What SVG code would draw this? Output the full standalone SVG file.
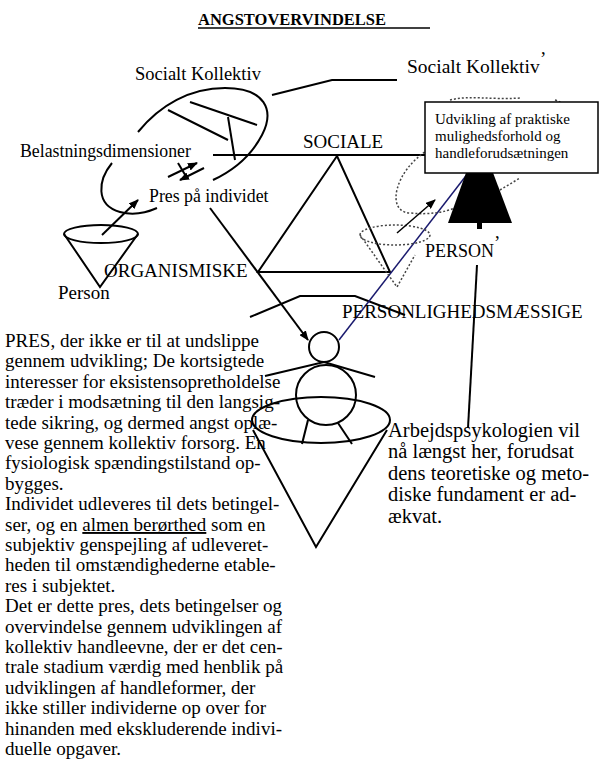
<svg xmlns="http://www.w3.org/2000/svg" width="616" height="768" viewBox="0 0 616 768" font-family="Liberation Serif, Times New Roman, serif">
<style>
text{font-family:'Liberation Serif',serif;fill:#000}
.t{font-size:19px}
.s{stroke:#000;stroke-width:2;fill:none}
.d{stroke:#444;stroke-width:1.5;fill:none;stroke-dasharray:2 2}
</style>
<defs><marker id="a" markerWidth="10" markerHeight="8" refX="9" refY="4" orient="auto" markerUnits="userSpaceOnUse"><path d="M0,0 L10,4 L0,8 z" fill="#000"/></marker></defs>
<rect width="616" height="768" fill="#fff"/>
<g id="title"><text x="198" y="25" font-size="16.5" font-weight="bold">ANGSTOVERVINDELSE</text><line x1="198" y1="28" x2="430" y2="28" stroke="#000" stroke-width="1.5"/></g>
<g id="connectors">
<path class="s" d="M138,132 C160,105 190,88 225,88 C265,88 275,110 262,135 C250,158 230,172 213,180"/>
<line class="s" x1="168" y1="110" x2="228" y2="140"/>
<line class="s" x1="190" y1="102" x2="257" y2="125"/>
<line class="s" x1="228" y1="117" x2="235" y2="160"/>
<polyline class="s" points="272,95 332,80 397,80"/>
<line class="s" x1="213" y1="155" x2="430" y2="155"/>
<path class="s" d="M112,163 C98,180 95,205 120,212 C135,216 148,212 157,208"/>
<line class="s" x1="168" y1="177" x2="197" y2="163" marker-end="url(#a)"/>
<line class="s" x1="204" y1="168" x2="180" y2="180" marker-end="url(#a)"/>
<line class="s" x1="178" y1="163" x2="187" y2="178"/>
<line class="s" x1="102" y1="235" x2="138" y2="200" marker-end="url(#a)"/>
<polyline class="s" points="337,156 258,272 390,272 337,156"/>
<line class="s" x1="210" y1="208" x2="308" y2="340" marker-end="url(#a)"/>
<polyline class="s" points="250,317 300,296 355,296 405,315"/>
<line x1="339" y1="340" x2="472" y2="168" stroke="#1a1a6e" stroke-width="1.5"/>
<line class="s" x1="477" y1="265" x2="468" y2="428"/>
</g>
<g id="person-left"><ellipse class="s" cx="101" cy="234" rx="37" ry="9"/><polyline class="s" points="64,234 100,287 138,234"/></g>
<g id="person-right">
<path class="d" d="M428,150 C395,170 385,212 410,213 C430,215 445,212 455,208"/>
<path class="d" d="M450,100 C470,95 490,100 520,98 M555,100 C562,102 565,106 560,112"/>
<path class="d" d="M500,190 L520,178"/>
<ellipse class="d" cx="395" cy="235" rx="35" ry="10"/>
<polyline class="d" points="360,235 397,287 415,255"/>
<line x1="397" y1="233" x2="435" y2="200" stroke="#000" stroke-width="1.5" marker-end="url(#a)"/>
<polygon points="467,170 492,170 512,223 448,223" fill="#000"/>
<rect x="477" y="223" width="5" height="6" fill="#000"/>
</g>
<g id="figure">
<circle class="s" cx="324" cy="347" r="15"/>
<circle class="s" cx="326" cy="395" r="30"/>
<polyline class="s" points="265,376 324,362 375,377"/>
<line class="s" x1="308" y1="420" x2="302" y2="444"/>
<line class="s" x1="338" y1="423" x2="352" y2="444"/>
<ellipse class="s" cx="321" cy="420" rx="69" ry="23"/>
<polyline class="s" points="253,430 316,547 387,430"/>
</g>
<g id="box"><rect x="425" y="102" width="173" height="71" fill="#fff" stroke="#000" stroke-width="1.5"/>
<text x="435" y="124" font-size="15">Udvikling af praktiske</text><text x="435" y="141" font-size="15">mulighedsforhold og</text><text x="435" y="158" font-size="15">handleforudsætningen</text></g>
<g id="labels">
<text x="135" y="80" font-size="18.5">Socialt Kollektiv</text>
<text x="407" y="73" font-size="19.5">Socialt Kollektiv</text><text x="540" y="65" font-size="19">’</text>
<text x="20" y="157" font-size="17.8">Belastningsdimensioner</text>
<text x="303" y="148" font-size="19">SOCIALE</text>
<text x="149" y="202" font-size="17.8">Pres på individet</text>
<text x="104" y="277" font-size="19">ORGANISMISKE</text>
<text x="58" y="299" font-size="19">Person</text>
<text x="425" y="257" font-size="18">PERSON</text><text x="494" y="249" font-size="19">’</text>
<text x="342" y="318" font-size="19">PERSONLIGHEDSMÆSSIGE</text>
</g>
<g id="text-left" class="t">
<text x="5" y="347">PRES, der ikke er til at undslippe</text>
<text x="5" y="367">gennem udvikling; De kortsigtede</text>
<text x="5" y="388">interesser for eksistensopretholdelse</text>
<text x="5" y="408">træder i modsætning til den langsig-</text>
<text x="5" y="429">tede sikring, og dermed angst oplæ-</text>
<text x="5" y="449">vese gennem kollektiv forsorg. En</text>
<text x="5" y="469">fysiologisk spændingstilstand op-</text>
<text x="5" y="490">bygges.</text>
<text x="5" y="510">Individet udleveres til dets betingel-</text>
<text x="5" y="531">ser, og en <tspan text-decoration="underline">almen berørthed</tspan> som en</text>
<text x="5" y="551">subjektiv genspejling af udleveret-</text>
<text x="5" y="571">heden til omstændighederne etable-</text>
<text x="5" y="592">res i subjektet.</text>
<text x="5" y="612">Det er dette pres, dets betingelser og</text>
<text x="5" y="633">overvindelse gennem udviklingen af</text>
<text x="5" y="653">kollektiv handleevne, der er det cen-</text>
<text x="5" y="673">trale stadium værdig med henblik på</text>
<text x="5" y="694">udviklingen af handleformer, der</text>
<text x="5" y="714">ikke stiller individerne op over for</text>
<text x="5" y="735">hinanden med ekskluderende indivi-</text>
<text x="5" y="755">duelle opgaver.</text>
</g>
<g id="text-right" font-size="20.5">
<text x="388" y="437">Arbejdspsykologien vil</text>
<text x="388" y="458">nå længst her, forudsat</text>
<text x="388" y="480">dens teoretiske og meto-</text>
<text x="388" y="501">diske fundament er ad-</text>
<text x="388" y="523">ækvat.</text>
</g>
</svg>
